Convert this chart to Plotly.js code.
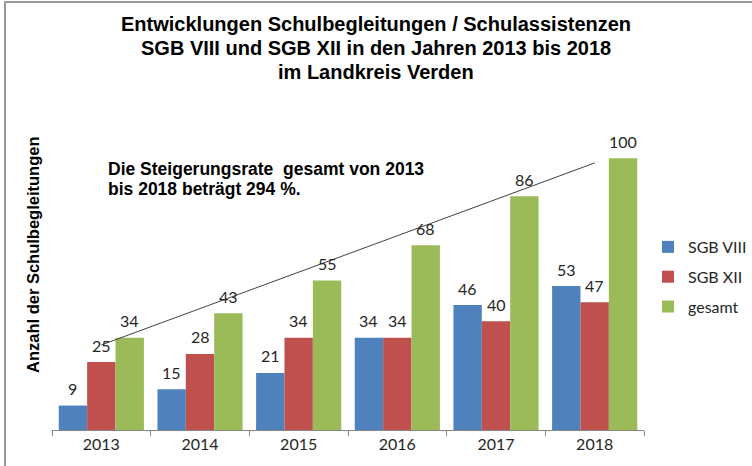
<!DOCTYPE html>
<html>
<head>
<meta charset="utf-8">
<script src="https://cdn.plot.ly/plotly-3.0.1.min.js"></script>
<style>
  html, body { margin: 0; padding: 0; background: #fff; }
  #wrap { position: relative; width: 752px; height: 466px; }
  #chart { width: 752px; height: 466px; }
  #frame { position: absolute; left: 4px; top: 1px; width: 748px; height: 465px;
           border-left: 2px solid #9a9a9a; border-top: 2px solid #9a9a9a; pointer-events: none; }
</style>
</head>
<body>
<div id="wrap">
  <div id="chart"></div>
  <div id="frame"></div>
</div>
<script>
// ---- data ----
const years = ['2013', '2014', '2015', '2016', '2017', '2018'];
const sgbVIII = [9, 15, 21, 34, 46, 53];
const sgbXII = [25, 28, 34, 34, 40, 47];
const gesamt = [34, 43, 55, 68, 86, 100];
const seriesNames = ['SGB VIII', 'SGB XII', 'gesamt'];
const seriesColors = ['#4F81BD', '#C0504D', '#9BBB59'];
// trend line (category index, value)
const trendX = [0, 5];
const trendY = [31.3, 98.3];

const titleLines = [
  'Entwicklungen Schulbegleitungen / Schulassistenzen',
  'SGB VIII und SGB XII in den Jahren 2013 bis 2018',
  'im Landkreis Verden'
];
const noteLines = ['Die Steigerungsrate \u00a0gesamt von 2013', 'bis 2018 beträgt 294 %.'];
const yTitle = 'Anzahl der Schulbegleitungen';

const bargap = 0.137;
const allSeries = [sgbVIII, sgbXII, gesamt];

// plot area geometry (pixels)
const L = 52, R = 644, T = 104, B = 430, W = 752, H = 466;
const px2x = p => (p - L) / (R - L);
const px2y = p => (B - p) / (B - T);

const traces = allSeries.map((vals, k) => ({
  type: 'bar',
  name: seriesNames[k],
  x: years,
  y: vals,
  marker: { color: seriesColors[k], line: { width: 0 } },
  legendgroup: 'g' + k,
  hoverinfo: 'skip'
}));

traces.push({
  type: 'scatter',
  mode: 'lines',
  x: trendX,
  y: trendY,
  xaxis: 'x2',
  yaxis: 'y',
  line: { color: '#404040', width: 1 },
  showlegend: false,
  hoverinfo: 'skip'
});

const labelFont = { family: 'Lato, "Open Sans", sans-serif', size: 16, color: '#262626' };
const annotations = [];
const w = (1 - bargap) / 3;
allSeries.forEach((vals, k) => {
  vals.forEach((v, i) => {
    annotations.push({
      xref: 'x2', yref: 'y',
      x: i + (k - 1) * w, y: v,
      yshift: 17, yanchor: 'middle', xanchor: 'center',
      text: String(v), showarrow: false, font: labelFont
    });
  });
});

annotations.push({
  xref: 'paper', yref: 'paper', x: px2x(33), y: px2y(255),
  text: '<b>' + yTitle + '</b>', textangle: -90, showarrow: false,
  xanchor: 'center', yanchor: 'middle',
  font: { family: '"Liberation Sans", Arial, sans-serif', size: 16.5, color: '#000' }
});

const noteY = [169, 189];
noteLines.forEach((t, j) => {
  annotations.push({
    xref: 'paper', yref: 'paper', x: px2x(107), y: px2y(noteY[j]),
    text: '<b>' + t + '</b>', showarrow: false, xanchor: 'left', yanchor: 'middle',
    borderpad: 0,
    font: { family: '"Liberation Sans", Arial, sans-serif', size: 17.5, color: '#000' }
  });
});

const titleY = [24, 48, 72];
titleLines.forEach((t, j) => {
  annotations.push({
    xref: 'paper', yref: 'paper', x: px2x(376), y: px2y(titleY[j]),
    text: '<b>' + t + '</b>', showarrow: false, xanchor: 'center', yanchor: 'middle',
    font: { family: '"Liberation Sans", Arial, sans-serif', size: 20, color: '#000' }
  });
});

const layout = {
  width: W, height: H,
  margin: { l: L, r: W - R, t: T, b: H - B, pad: 0, autoexpand: false },
  paper_bgcolor: '#fff', plot_bgcolor: '#fff',
  barmode: 'group', bargap: bargap, bargroupgap: 0,
  xaxis: {
    type: 'category', tickson: 'boundaries', ticks: 'outside', ticklen: 5,
    tickcolor: '#868686', showline: true, linecolor: '#868686', linewidth: 1,
    showgrid: false, zeroline: false, automargin: false,
    tickfont: { family: 'Lato, "Open Sans", sans-serif', size: 16, color: '#262626' }
  },
  xaxis2: { overlaying: 'x', range: [-0.5, 5.5], visible: false, anchor: 'y' },
  yaxis: { range: [0, 120], visible: false, showgrid: false, zeroline: false },
  showlegend: true,
  legend: {
    x: px2x(648), xanchor: 'left', y: px2y(230), yanchor: 'top',
    font: { family: 'Lato, "Open Sans", sans-serif', size: 16, color: '#262626' },
    tracegroupgap: 6, traceorder: 'grouped', bgcolor: 'rgba(0,0,0,0)'
  },
  annotations: annotations
};

Plotly.newPlot('chart', traces, layout, { staticPlot: true, displayModeBar: false });
</script>
</body>
</html>
